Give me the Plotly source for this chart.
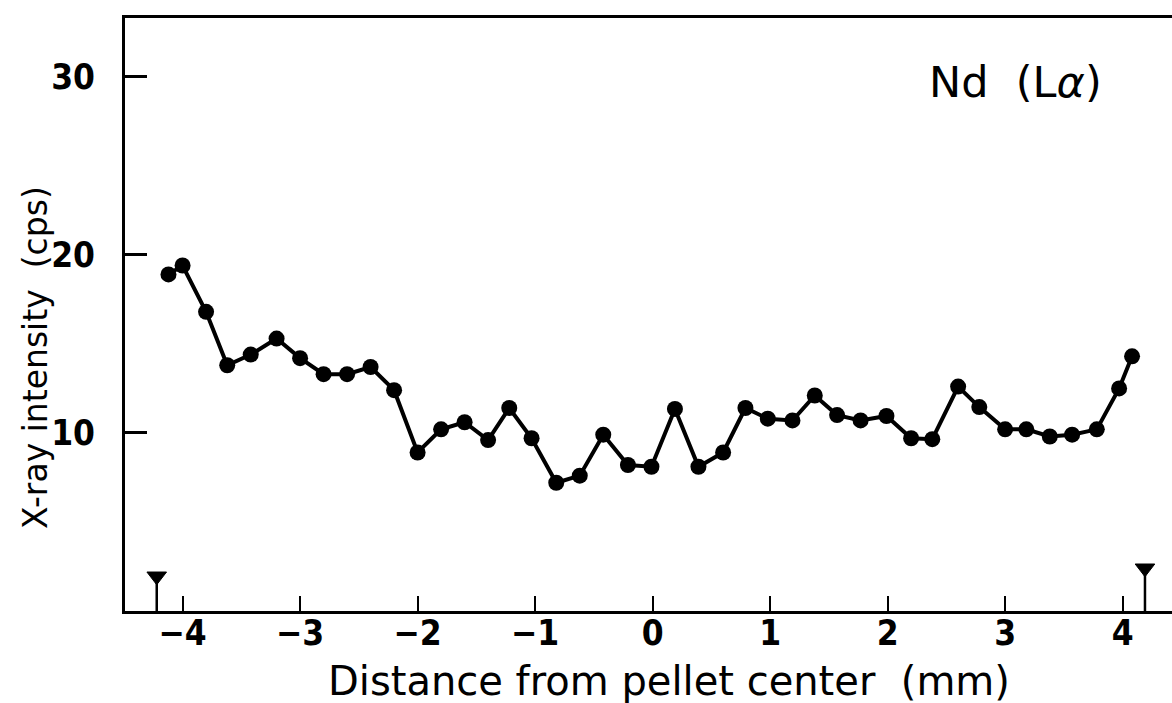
import plotly.graph_objects as go

# Data
distance_mm = [-4.12, -4.0, -3.8, -3.62, -3.42, -3.2, -3.0, -2.8, -2.6, -2.4, -2.2,
               -2.0, -1.8, -1.6, -1.4, -1.22, -1.03, -0.82, -0.62, -0.42, -0.21, -0.01,
               0.19, 0.39, 0.6, 0.79, 0.98, 1.19, 1.38, 1.57, 1.77, 1.99, 2.2, 2.38,
               2.6, 2.78, 3.0, 3.18, 3.38, 3.57, 3.78, 3.97, 4.08]
intensity_cps = [18.9, 19.4, 16.8, 13.8, 14.4, 15.3, 14.2, 13.3, 13.3, 13.7, 12.4,
                 8.9, 10.2, 10.6, 9.6, 11.4, 9.7, 7.2, 7.6, 9.9, 8.2, 8.1,
                 11.35, 8.1, 8.9, 11.4, 10.8, 10.7, 12.1, 11.0, 10.7, 10.95, 9.7, 9.65,
                 12.6, 11.45, 10.2, 10.2, 9.8, 9.9, 10.2, 12.5, 14.3]

# Pellet edge markers
edge_x = [-4.22, 4.19]
edge_h = [1.95, 2.4]

x_ticks = [-4, -3, -2, -1, 0, 1, 2, 3, 4]
y_ticks = [10, 20, 30]

fig = go.Figure()

fig.add_trace(go.Scatter(
    x=distance_mm, y=intensity_cps, mode="lines+markers",
    line=dict(color="black", width=4),
    marker=dict(color="black", size=16, symbol="circle"),
    showlegend=False, hoverinfo="skip",
))

for ex, eh in zip(edge_x, edge_h):
    fig.add_trace(go.Scatter(
        x=[ex, ex], y=[0, eh], mode="lines+markers",
        line=dict(color="black", width=2.5),
        marker=dict(color="black", size=[0, 17], symbol="triangle-down",
                    opacity=1, line=dict(width=1, color="black")),
        showlegend=False, hoverinfo="skip",
    ))

tick_font = dict(family="DejaVu Sans Condensed, Liberation Sans Narrow, sans-serif",
                 size=35, color="black", weight="bold")

fig.update_layout(
    width=1172, height=703,
    margin=dict(l=125, r=0, t=18, b=92),
    paper_bgcolor="white", plot_bgcolor="white",
    xaxis=dict(
        range=[-4.49, 4.42], tickvals=x_ticks,
        ticks="inside", ticklen=15, tickwidth=2, tickcolor="black",
        showline=True, linewidth=3, linecolor="black", mirror=True,
        showgrid=False, zeroline=False,
        tickfont=tick_font, ticklabelstandoff=-11,
    ),
    yaxis=dict(
        range=[0, 33.3], tickvals=y_ticks,
        ticks="inside", ticklen=22, tickwidth=3, tickcolor="black",
        showline=True, linewidth=3, linecolor="black",
        showgrid=False, zeroline=False,
        tickfont=tick_font, ticklabelstandoff=20,
    ),
    annotations=[
        dict(text="Distance from pellet center  (mm)", xref="paper", yref="paper",
             x=(669 - 125) / 1047, y=-(681 - 611) / 593, showarrow=False,
             xanchor="center", yanchor="middle",
             font=dict(family="DejaVu Sans", size=40, color="black")),
        dict(text="X-ray intensity  (cps)", xref="paper", yref="paper",
             x=-(125 - 36) / 1047, y=(611 - 358) / 593, showarrow=False,
             xanchor="center", yanchor="middle", textangle=-90,
             font=dict(family="DejaVu Sans", size=33, color="black")),
        dict(text="Nd  (L<i>α</i>)", xref="paper", yref="paper",
             x=(1015 - 125) / 1047, y=(611 - 82) / 593, showarrow=False,
             xanchor="center", yanchor="middle",
             font=dict(family="DejaVu Sans", size=43, color="black")),
    ],
)

fig.write_html("out.html")
